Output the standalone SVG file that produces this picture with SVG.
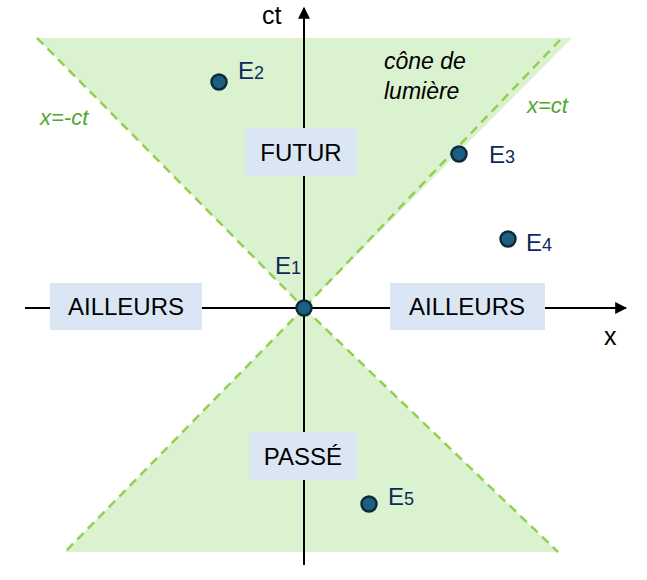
<svg xmlns="http://www.w3.org/2000/svg" width="647" height="580" viewBox="0 0 647 580">
<style>
text{font-family:"Liberation Sans",Arial,sans-serif}
.cone{fill:#daf2d0}
.dash{stroke:#92d050;stroke-width:2.5;stroke-dasharray:9,6;fill:none}
.axis{stroke:#000;stroke-width:2;fill:none}
.box{fill:#dae6f3}
.lbl{font-size:24px;fill:#000;text-anchor:middle}
.pt{fill:#1c5f82;stroke:#0e2a3a;stroke-width:2.5}
.e{font-size:24px;fill:#0e2a5a}
.es{font-size:18px;fill:#0e2a5a}
.g{font-size:22px;fill:#4ea72e;font-style:italic}
</style>
<defs><marker id="ar" viewBox="0 0 10 10" refX="9" refY="5" markerWidth="6" markerHeight="6" orient="auto"><path d="M0,0L10,5L0,10z" fill="#000"/></marker></defs>
<g id="cones">
<polygon class="cone" points="37,38 572,38 304,308"/>
<polygon class="cone" points="304,308 65,552 558,552"/>
</g>
<g id="connectors">
<line class="dash" x1="37" y1="38" x2="304" y2="308"/>
<line class="dash" x1="304" y1="308" x2="65" y2="552"/>
<line class="dash" x1="560" y1="40" x2="304" y2="308"/>
<line class="dash" x1="304" y1="308" x2="558" y2="552"/>
<line class="axis" x1="25" y1="308" x2="626" y2="308" marker-end="url(#ar)"/>
<line class="axis" x1="304" y1="565" x2="304" y2="8" marker-end="url(#ar)"/>
</g>
<text x="262" y="24" font-size="25">ct</text>
<text x="604" y="345" font-size="25">x</text>
<text class="g" x="40" y="125">x=-ct</text>
<text class="g" x="527" y="113">x=ct</text>
<text x="384" y="69" font-size="23" font-style="italic">cône de</text>
<text x="384" y="99" font-size="23" font-style="italic">lumière</text>
<g id="ailleurs-left"><rect class="box" x="50" y="283" width="152" height="47"/><text class="lbl" x="126" y="315">AILLEURS</text></g>
<g id="ailleurs-right"><rect class="box" x="390" y="283" width="155" height="47"/><text class="lbl" x="467" y="315">AILLEURS</text></g>
<g id="futur"><rect class="box" x="245" y="128" width="112" height="48"/><text class="lbl" x="301" y="161">FUTUR</text></g>
<g id="passe"><rect class="box" x="249" y="432" width="108" height="48"/><text class="lbl" x="303" y="465">PASSÉ</text></g>
<g id="E1"><circle class="pt" cx="304" cy="308" r="7.5"/><text class="e" x="275" y="274">E<tspan class="es">1</tspan></text></g>
<g id="E2"><circle class="pt" cx="219" cy="82" r="7.5"/><text class="e" x="238" y="79">E<tspan class="es">2</tspan></text></g>
<g id="E3"><circle class="pt" cx="459" cy="154" r="7.5"/><text class="e" x="489" y="163">E<tspan class="es">3</tspan></text></g>
<g id="E4"><circle class="pt" cx="508" cy="239" r="7.5"/><text class="e" x="526" y="251">E<tspan class="es">4</tspan></text></g>
<g id="E5"><circle class="pt" cx="369" cy="504" r="7.5"/><text class="e" x="388" y="505">E<tspan class="es">5</tspan></text></g>
</svg>
